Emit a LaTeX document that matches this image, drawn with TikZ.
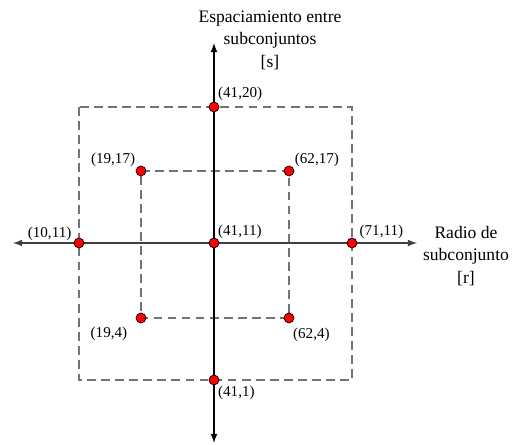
\documentclass[tikz,border=0pt]{standalone}
\usepackage{fontspec}
\setmainfont{Liberation Serif}
\usetikzlibrary{positioning}
\usetikzlibrary{arrows}
\usetikzlibrary{backgrounds}

\begin{document}
\begin{tikzpicture}[
    x=0.02cm, y=-0.02cm,
    >=latex,
    every node/.style={font=\fontsize{8.6}{13}\selectfont},
    pnt/.style={circle, draw=black, fill=red, line width=0.4pt, inner sep=0, minimum size=0.2cm},
    lbl/.style={inner sep=0},
    title/.style={align=center, font=\fontsize{10}{12.8}\selectfont},
    axis/.style={<->, line width=0.8pt},
    frame/.style={dash pattern=on 5pt off 3pt, line width=1.1pt, draw=black!55}
]
\useasboundingbox (0,0) rectangle (512,445);

% design points
\node[pnt] (p4120) at (214,107) {};
\node[pnt] (p1917) at (141,171) {};
\node[pnt] (p6217) at (289,171) {};
\node[pnt] (p1011) at (79,243) {};
\node[pnt] (p4111) at (214,243) {};
\node[pnt] (p7111) at (352,243) {};
\node[pnt] (p194) at (141,318) {};
\node[pnt] (p624) at (289,318) {};
\node[pnt] (p411) at (214,380) {};

% point labels
\node[lbl, above right=1pt and 0pt of p4120] (l4120) {(41,20)};
\node[lbl, above left=0pt and 1pt of p1917] (l1917) {(19,17)};
\node[lbl, above right=0pt and 1pt of p6217] (l6217) {(62,17)};
\node[lbl, above left=-1pt and 2pt of p1011] (l1011) {(10,11)};
\node[lbl, above right=0pt and 0pt of p4111] (l4111) {(41,11)};
\node[lbl, above right=0pt and 2pt of p7111] (l7111) {(71,11)};
\node[lbl, below left=3pt and 5.5pt of p194] (l194) {(19,4)};
\node[lbl, below right=3.5pt and 0pt of p624] (l624) {(62,4)};
\node[lbl, below right=1pt and 0pt of p411] (l411) {(41,1)};

% axis titles
\node[title] (slbl) at (270,40) {Espaciamiento entre\\subconjuntos\\{[s]}};
\node[title] (rlbl) at (466,256) {Radio de\\subconjunto\\{[r]}};

\coordinate (ytop) at (214,43);
\coordinate (ybot) at (214,443);
\coordinate (xl) at (13,243);
\coordinate (xr) at (417,243);
\coordinate (otl) at (p1011 |- p4120);
\coordinate (obr) at (p7111 |- p411);

\begin{scope}[on background layer]
\draw[frame] (otl) rectangle (obr);
\draw[frame] (p1917.center) -- (p6217.center) -- (p624.center) -- (p194.center) -- cycle;
\draw[axis, black!75] (xl) -- (xr);
\draw[axis] (ybot) -- (ytop);
\end{scope}
\end{tikzpicture}
\end{document}
